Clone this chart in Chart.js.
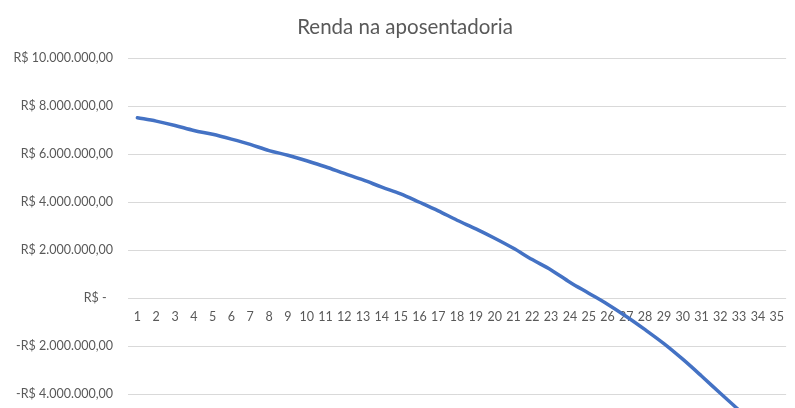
<!DOCTYPE html>
<html>
<head>
<meta charset="utf-8">
<script src="https://cdn.jsdelivr.net/npm/chart.js@4.4.0/dist/chart.umd.min.js"></script>
<style>
  html, body { margin: 0; padding: 0; background: #ffffff; overflow: hidden; }
  #wrap { width: 795px; height: 408px; position: relative; }
</style>
</head>
<body>
<div id="wrap"><canvas id="c"></canvas></div>
<script>
const chartTitle = "Renda na aposentadoria";
const categories = ["1","2","3","4","5","6","7","8","9","10","11","12","13","14","15","16","17","18","19","20","21","22","23","24","25","26","27","28","29","30","31","32","33","34","35"];
const rendaValues = [7510000, 7370000, 7190000, 6980000, 6820000, 6620000, 6400000, 6140000, 5950000, 5720000,
                     5470000, 5190000, 4920000, 4620000, 4340000, 3990000, 3630000, 3240000, 2880000, 2490000,
                     2070000, 1600000, 1170000, 660000, 200000, -260000, -770000, -1320000, -1900000, -2550000,
                     -3250000, -3970000, -4680000, -5450000, -6250000];
const yTickValues = [-4000000, -2000000, 0, 2000000, 4000000, 6000000, 8000000, 10000000];
const yTickLabels = ["-R$ 4.000.000,00", "-R$ 2.000.000,00", "R$ -  ", "R$ 2.000.000,00", "R$ 4.000.000,00",
                     "R$ 6.000.000,00", "R$ 8.000.000,00", "R$ 10.000.000,00"];
const yMax = 10000000;
const yMin = -4583333;

const textColor = "#595959";
const fontFamily = "Lato, 'Noto Sans', sans-serif";

const titlePlugin = {
  id: "excelTitle",
  afterDraw(chart) {
    const ctx = chart.ctx;
    ctx.save();
    ctx.fillStyle = textColor;
    ctx.font = "normal 20.5px " + fontFamily;
    ctx.textAlign = "center";
    ctx.textBaseline = "middle";
    ctx.fillText(chartTitle, 405, 27);
    ctx.restore();
  }
};

new Chart(document.getElementById("c"), {
  type: "line",
  data: {
    labels: categories,
    datasets: [{
      label: chartTitle,
      data: rendaValues,
      borderColor: "#4472C4",
      backgroundColor: "#4472C4",
      borderWidth: 3.5,
      pointRadius: 0,
      pointHoverRadius: 0,
      tension: 0.4,
      cubicInterpolationMode: "monotone",
      fill: false,
      borderCapStyle: "round"
    }]
  },
  plugins: [titlePlugin],
  options: {
    responsive: true,
    maintainAspectRatio: false,
    animation: false,
    devicePixelRatio: 1,
    layout: { padding: { top: 58, left: 0, right: 1.5, bottom: 0 } },
    plugins: {
      legend: { display: false },
      tooltip: { enabled: false },
      title: { display: false }
    },
    scales: {
      x: {
        type: "category",
        position: { y: 0 },
        offset: true,
        grid: { display: false, drawTicks: false },
        border: { display: false },
        ticks: {
          color: textColor,
          font: { family: fontFamily, size: 12.5 },
          padding: 11,
          autoSkip: false,
          maxRotation: 0,
          minRotation: 0
        }
      },
      y: {
        type: "linear",
        min: yMin,
        max: yMax,
        grid: { color: "#d9d9d9", lineWidth: 1, drawTicks: false },
        border: { display: false },
        ticks: {
          color: textColor,
          font: { family: fontFamily, size: 12.5 },
          padding: 15,
          callback: function (value) {
            const i = yTickValues.indexOf(value);
            return i >= 0 ? yTickLabels[i] : "";
          }
        },
        afterBuildTicks: function (axis) {
          axis.ticks = yTickValues.map(v => ({ value: v }));
        },
        afterFit: function (axis) {
          axis.width = 128;
          axis.paddingBottom = 0;
          axis.paddingTop = 0;
        }
      }
    }
  }
});
</script>
</body>
</html>
